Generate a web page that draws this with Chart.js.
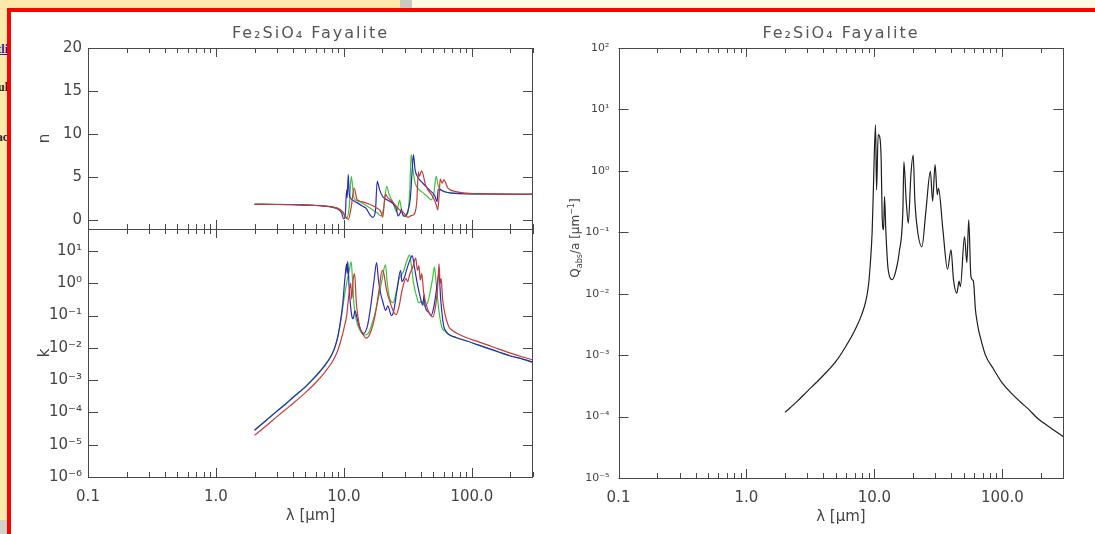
<!DOCTYPE html>
<html>
<head>
<meta charset="utf-8">
<script src="https://cdn.jsdelivr.net/npm/chart.js@4.4.1/dist/chart.umd.min.js"></script>
<style>
  html, body { margin: 0; padding: 0; }
  body { width: 1095px; height: 534px; overflow: hidden; position: relative; background: #fde9aa; }
  #topLight { position: absolute; left: 412px; top: 0; width: 683px; height: 9px; background: #fffbe2; }
  #grip { position: absolute; left: 400px; top: 0; width: 12px; height: 9px; background: #cbc8c0; }
  #bottomGrey { position: absolute; left: 0; top: 520px; width: 8px; height: 14px; background: #d4d1ca; }
  #frame { position: absolute; left: 7px; top: 8px; width: 1100px; height: 540px; border: 4px solid #f00; background: #fff; box-sizing: border-box; }
  .frag { position: absolute; left: -60px; width: 68px; text-align: right; overflow: hidden; white-space: nowrap;
          font: bold 12px "Liberation Serif", serif; color: #222; }
  .frag a { color: #1a1aa6; }
  canvas { position: absolute; left: 0; top: 0; }
</style>
</head>
<body>
<div id="topLight"></div>
<div id="grip"></div>
<div id="bottomGrey"></div>
<div class="frag" style="top:42px"><a href="#">Optical dat</a><a href="#">li</a></div>
<div class="frag" style="top:80px">Resul</div>
<div class="frag" style="top:130px">Spac</div>
<div id="frame"></div>
<canvas id="nChart" width="1095" height="534"></canvas>
<canvas id="kChart" width="1095" height="534"></canvas>
<canvas id="qChart" width="1095" height="534"></canvas>
<script>
// ---- data ----
const xTickVals = [0.1, 1, 10, 100];
const xTickText = ['0.1', '1.0', '10.0', '100.0'];
const nTickVals = [0, 5, 10, 15, 20];
const kTickVals = [1e-6, 1e-5, 1e-4, 1e-3, 1e-2, 1e-1, 1, 10];
const qTickVals = [1e-5, 1e-4, 1e-3, 1e-2, 1e-1, 1, 10, 100];

// refractive index n
const nLamBlue = [2.0, 3.0, 4.0, 5.0, 6.0, 7.0, 8.0, 9.0, 9.6, 9.9, 10.2, 10.5, 10.6, 10.8, 11.0, 11.3, 12.0, 13.0, 14.0, 15.0, 15.8, 16.8, 17.6, 18.2, 19.0, 20.1, 22.0, 24.0, 25.5, 26.5, 27.5, 28.1, 28.8, 29.8, 31.5, 33.0, 34.2, 34.9, 36.0, 37.7, 41.2, 46.5, 50.9, 53.5, 54.5, 57.0, 62.0, 70.0, 85.0, 130, 300];
const nBlue = [1.82, 1.80, 1.77, 1.73, 1.68, 1.60, 1.50, 1.25, 0.8, 0.15, 0.3, 3.5, 2.6, 5.3, 3.0, 2.5, 2.2, 1.9, 1.6, 1.3, 0.7, 0.3, 1.0, 4.5, 3.5, 2.7, 2.3, 1.95, 1.4, 0.47, 0.8, 1.25, 0.6, 0.45, 1.0, 2.5, 6.0, 7.6, 5.8, 5.0, 4.3, 3.5, 2.9, 2.15, 3.6, 3.5, 3.25, 3.12, 3.06, 3.02, 2.98];
const nLamGreen = [2.0, 3.0, 4.0, 5.0, 6.0, 7.0, 8.0, 9.0, 9.7, 10.4, 11.0, 11.4, 12.0, 13.0, 14.5, 16.8, 18.3, 19.4, 20.5, 21.6, 22.5, 24.0, 25.7, 26.5, 27.2, 28.3, 29.8, 31.5, 32.7, 33.5, 34.5, 36.0, 37.7, 40.4, 45.1, 48.0, 50.5, 52.5, 54.5, 57.4, 62.0, 70.0, 85.0, 130, 300];
const nGreen = [1.85, 1.83, 1.80, 1.76, 1.71, 1.64, 1.55, 1.35, 1.0, 0.19, 1.5, 5.06, 2.53, 2.2, 1.8, 1.17, 0.8, 0.47, 1.5, 3.9, 3.0, 2.14, 0.97, 1.6, 2.3, 1.0, 0.4, 0.8, 3.5, 7.6, 6.0, 4.3, 3.7, 3.3, 2.7, 2.34, 3.2, 5.06, 4.0, 3.5, 3.25, 3.12, 3.06, 3.02, 3.0];
const nLamRed = [2.0, 3.0, 4.0, 5.0, 6.0, 7.0, 8.0, 9.0, 9.8, 10.4, 10.8, 11.4, 12.0, 12.7, 14.0, 16.0, 18.0, 19.4, 20.1, 21.0, 22.0, 24.0, 27.2, 29.5, 31.6, 33.5, 35.5, 37.0, 38.2, 38.8, 40.4, 43.8, 49.4, 52.5, 54.0, 55.5, 56.5, 58.5, 60.4, 65.0, 75.0, 90.0, 130, 300];
const nRed = [1.82, 1.80, 1.77, 1.73, 1.68, 1.61, 1.52, 1.32, 0.9, 0.3, 0.06, 1.5, 3.7, 2.34, 2.1, 1.8, 1.4, 0.97, 0.31, 3.0, 2.6, 2.1, 1.17, 0.8, 0.31, 0.5, 0.7, 2.0, 5.6, 5.06, 5.7, 3.9, 2.72, 1.8, 1.17, 3.0, 4.75, 4.28, 4.67, 3.7, 3.3, 3.12, 3.03, 2.98];

// absorption index k
const kLamBlue = [2.0, 2.5, 3.0, 3.5, 4.0, 5.0, 6.0, 7.0, 8.0, 8.5, 9.0, 9.5, 9.8, 10.2, 10.5, 10.6, 10.7, 11.0, 11.5, 11.8, 12.2, 12.6, 13.2, 14.2, 15.3, 16.2, 17.2, 18.0, 18.6, 19.3, 20.2, 21.2, 22.0, 23.5, 24.5, 26.0, 27.7, 28.4, 29.5, 31.0, 33.0, 34.2, 35.5, 37.0, 39.0, 41.3, 42.3, 43.0, 46.0, 48.0, 50.0, 52.0, 54.0, 55.3, 57.0, 60.0, 63.0, 66.0, 75.0, 90.0, 110, 130, 160, 200, 250, 300];
const kBlue = [2.8e-5, 5.9e-5, 1.1e-4, 1.8e-4, 2.9e-4, 6.2e-4, 1.3e-3, 2.65e-3, 5.9e-3, 0.0105, 0.025, 0.09, 0.25, 1.6, 4.0, 2.0, 4.8, 0.63, 0.10, 0.08, 0.14, 0.09, 0.045, 0.028, 0.05, 0.2, 1.26, 4.4, 1.26, 0.5, 0.25, 0.145, 0.2, 0.1, 0.14, 0.63, 2.5, 1.12, 1.4, 2.8, 5.6, 7.2, 3.2, 1.26, 0.45, 0.21, 0.45, 0.2, 0.126, 0.1, 0.16, 0.4, 1.26, 2.0, 0.32, 0.05, 0.032, 0.026, 0.021, 0.0166, 0.0126, 0.01, 0.0076, 0.0056, 0.0045, 0.0036];
const kLamGreen = [2.0, 2.5, 3.0, 3.5, 4.0, 5.0, 6.0, 7.0, 8.0, 8.5, 9.0, 9.5, 10.0, 10.6, 11.0, 11.4, 11.7, 12.0, 12.6, 13.5, 14.5, 15.5, 17.0, 18.5, 19.8, 21.1, 21.8, 22.7, 24.2, 25.5, 27.0, 29.0, 31.0, 32.6, 33.5, 35.0, 37.0, 38.5, 40.5, 43.0, 45.0, 47.0, 49.5, 50.9, 52.5, 55.0, 58.0, 62.0, 66.0, 75.0, 90.0, 110, 130, 160, 200, 250, 300];
const kGreen = [2.8e-5, 6.0e-5, 1.12e-4, 1.86e-4, 2.95e-4, 6.3e-4, 1.32e-3, 2.7e-3, 6.0e-3, 0.0105, 0.024, 0.079, 0.32, 1.26, 2.5, 4.6, 1.0, 0.2, 0.063, 0.032, 0.025, 0.028, 0.079, 0.32, 1.26, 3.8, 1.0, 0.35, 0.25, 0.5, 1.4, 2.2, 5.0, 7.6, 4.0, 1.0, 0.38, 0.25, 0.28, 0.2, 0.25, 0.5, 1.6, 3.2, 1.0, 0.16, 0.045, 0.032, 0.026, 0.021, 0.0166, 0.0126, 0.01, 0.0076, 0.0056, 0.0045, 0.0035];
const kLamRed = [2.0, 2.5, 3.0, 3.5, 4.0, 5.0, 6.0, 7.0, 8.0, 8.5, 9.0, 9.5, 10.0, 10.5, 10.9, 11.3, 11.5, 11.8, 12.1, 12.5, 13.2, 14.2, 14.9, 16.0, 17.5, 18.8, 19.9, 20.5, 21.5, 23.0, 24.5, 25.6, 27.0, 28.5, 30.5, 31.5, 32.5, 34.5, 36.4, 37.5, 38.5, 39.5, 40.5, 42.0, 45.0, 49.5, 52.0, 54.0, 55.3, 56.5, 57.5, 59.0, 62.0, 64.0, 66.0, 70.0, 75.0, 90.0, 110, 130, 160, 200, 250, 300];
const kRed = [1.95e-5, 4.0e-5, 7.4e-5, 1.23e-4, 1.9e-4, 4.1e-4, 8.3e-4, 1.66e-3, 3.4e-3, 5.2e-3, 8.9e-3, 0.0178, 0.04, 0.1, 0.4, 1.0, 0.32, 1.26, 2.0, 0.25, 0.05, 0.025, 0.02, 0.028, 0.1, 0.63, 2.5, 2.0, 0.63, 0.25, 0.126, 0.107, 0.2, 0.63, 1.4, 1.12, 1.78, 3.2, 6.0, 2.5, 3.5, 1.26, 2.0, 0.5, 0.16, 0.091, 0.2, 0.8, 4.0, 1.0, 1.4, 0.32, 0.1, 0.063, 0.045, 0.035, 0.0295, 0.021, 0.0158, 0.0126, 0.0093, 0.0069, 0.0052, 0.0042];

// Qabs/a
const qLam = [2.0, 2.5, 3.0, 3.5, 4.0, 5.0, 6.0, 7.0, 8.0, 8.6, 9.0, 9.3, 9.6, 9.8, 10.2, 10.4, 10.7, 11.0, 11.3, 11.5, 11.8, 12.0, 12.3, 12.8, 13.8, 15.0, 15.6, 16.7, 17.0, 17.7, 18.4, 19.3, 20.1, 20.7, 21.7, 23.5, 25.3, 27.4, 28.5, 29.8, 31.0, 31.7, 34.3, 37.3, 39.7, 41.5, 44.1, 45.9, 47.0, 50.6, 52.8, 54.6, 56.8, 59.4, 61.6, 63.5, 65.1, 68.0, 73.8, 85.0, 100, 120, 138, 160, 189, 230, 300];
const qVal = [1.17e-4, 1.78e-4, 2.6e-4, 3.55e-4, 4.7e-4, 7.9e-4, 1.41e-3, 2.5e-3, 4.7e-3, 7.9e-3, 0.014, 0.032, 0.1, 0.44, 5.6, 0.49, 3.9, 3.6, 1.5, 0.18, 0.11, 0.38, 0.1, 0.025, 0.017, 0.028, 0.046, 0.23, 1.4, 0.34, 0.14, 0.89, 1.8, 0.34, 0.11, 0.058, 0.23, 0.98, 0.32, 1.26, 0.41, 0.52, 0.11, 0.025, 0.052, 0.017, 0.0102, 0.016, 0.013, 0.085, 0.032, 0.16, 0.019, 0.016, 0.0055, 0.0035, 0.0026, 0.0018, 0.001, 6.0e-4, 3.5e-4, 2.3e-4, 1.74e-4, 1.32e-4, 9.3e-5, 6.9e-5, 4.7e-5];

// ---- styling ----
const FONT = '"DejaVu Sans", sans-serif';
const AXIS = '#474747';
const TEXT = '#444';
const RED = '#c83a3a';
const BLUE = '#2b2bb8';
const GREEN = '#3cc43c';
const TITLE = 'Fe\u2082SiO\u2084 Fayalite';

const sup = { '-': '\u207b', '0': '\u2070', '1': '\u00b9', '2': '\u00b2', '3': '\u00b3', '4': '\u2074', '5': '\u2075', '6': '\u2076', '7': '\u2077', '8': '\u2078', '9': '\u2079' };
function powLabel(v) {
    const e = Math.round(Math.log10(v));
    return '10' + String(e).split('').map(c => sup[c]).join('');
}
function pts(lam, val) {
    return lam.map((x, i) => ({ x: x, y: val[i] }));
}
function line(lam, val, color) {
    return { data: pts(lam, val), borderColor: color, borderWidth: 1.2, pointRadius: 0,
             cubicInterpolationMode: 'monotone', fill: false };
}

// IDL-like frame: box, inward ticks on all four sides, title and special labels
const idlFrame = {
    id: 'idlFrame',
    afterDatasetsDraw(chart, args, opts) {
        const { ctx, chartArea: a } = chart;
        const xs = chart.scales.x, ys = chart.scales.y;
        ctx.save();
        ctx.strokeStyle = AXIS;
        ctx.lineWidth = 1;
        ctx.strokeRect(Math.round(a.left) + 0.5, Math.round(a.top) + 0.5,
            Math.round(a.right - a.left) - 1, Math.round(a.bottom - a.top));
        ctx.beginPath();
        xTickVals.forEach(d => {
            for (let m = 1; m < 10; m++) {
                const v = d * m;
                if (v < xs.min || v > xs.max) continue;
                const px = Math.round(xs.getPixelForValue(v)) + 0.5;
                const len = m === 1 ? 9 : 5;
                ctx.moveTo(px, a.bottom); ctx.lineTo(px, a.bottom - len);
                ctx.moveTo(px, a.top); ctx.lineTo(px, a.top + len);
            }
        });
        ys.ticks.forEach(t => {
            const py = Math.round(ys.getPixelForValue(t.value)) + 0.5;
            ctx.moveTo(a.left, py); ctx.lineTo(a.left + 10, py);
            ctx.moveTo(a.right, py); ctx.lineTo(a.right - 10, py);
        });
        ctx.stroke();

        if (opts.title) {
            ctx.fillStyle = '#555';
            ctx.font = '16px ' + FONT;
            ctx.textAlign = 'center';
            ctx.textBaseline = 'middle';
            ctx.letterSpacing = '2px';
            ctx.fillText(opts.title, (a.left + a.right) / 2, a.top - 14);
            ctx.letterSpacing = '0px';
        }
        if (opts.qLabel) {
            // Q_abs/a [um^-1], rotated, with sub/superscript
            const parts = [['Q', 12, 0], ['abs', 8, 3], ['/a [\u03bcm', 12, 0], ['\u22121', 8, -5], [']', 12, 0]];
            ctx.fillStyle = TEXT;
            ctx.textBaseline = 'alphabetic';
            ctx.textAlign = 'left';
            let total = 0;
            parts.forEach(p => { ctx.font = p[1] + 'px ' + FONT; total += ctx.measureText(p[0]).width; });
            ctx.translate(a.left - 44, 238);
            ctx.rotate(-Math.PI / 2);
            let cx = -total / 2;
            parts.forEach(p => {
                ctx.font = p[1] + 'px ' + FONT;
                ctx.fillText(p[0], cx, 4 + p[2]);
                cx += ctx.measureText(p[0]).width;
            });
        }
        ctx.restore();
    }
};

function xScale(showLabels) {
    return {
        type: 'logarithmic',
        min: 0.1,
        max: 300,
        display: showLabels,
        border: { display: false },
        grid: { display: false, drawTicks: false },
        afterBuildTicks: s => { s.ticks = xTickVals.map(v => ({ value: v })); },
        afterFit: s => { s.height = showLabels ? 52 : 0; },
        ticks: {
            autoSkip: false, maxRotation: 0, padding: 11, color: TEXT,
            font: { family: FONT, size: 15 },
            callback: v => xTickText[xTickVals.indexOf(v)]
        },
        title: {
            display: true, text: '\u03bb [\u03bcm]', color: TEXT,
            font: { family: FONT, size: 15 }, padding: { top: 0, bottom: 4 }
        }
    };
}

function baseOptions(padding, scales, frameOpts) {
    return {
        responsive: false,
        animation: false,
        devicePixelRatio: 1,
        layout: { padding: padding },
        plugins: { legend: { display: false }, tooltip: { enabled: false }, idlFrame: frameOpts },
        scales: scales
    };
}

// n panel (top left)
new Chart(document.getElementById('nChart'), {
    type: 'line',
    data: { datasets: [line(nLamRed, nRed, RED), line(nLamBlue, nBlue, BLUE), line(nLamGreen, nGreen, GREEN)] },
    options: baseOptions({ left: 30, top: 48, right: 562, bottom: 305 }, {
        x: xScale(false),
        y: {
            type: 'linear', min: -1.05, max: 20,
            border: { display: false },
            grid: { display: false, drawTicks: false },
            afterBuildTicks: s => { s.ticks = nTickVals.map(v => ({ value: v })); },
            afterFit: s => { s.width = 58; },
            ticks: { padding: 6, color: TEXT, font: { family: FONT, size: 15 } },
            title: { display: true, text: 'n', color: TEXT, font: { family: FONT, size: 15 }, padding: { top: 6, bottom: 0 } }
        }
    }, { title: TITLE }),
    plugins: [idlFrame]
});

// k panel (bottom left)
new Chart(document.getElementById('kChart'), {
    type: 'line',
    data: { datasets: [line(kLamRed, kRed, RED), line(kLamBlue, kBlue, BLUE), line(kLamGreen, kGreen, GREEN)] },
    options: baseOptions({ left: 30, top: 229, right: 562, bottom: 5 }, {
        x: xScale(true),
        y: {
            type: 'logarithmic', min: 1e-6, max: 48,
            border: { display: false },
            grid: { display: false, drawTicks: false },
            afterBuildTicks: s => { s.ticks = kTickVals.map(v => ({ value: v })); },
            afterFit: s => { s.width = 58; },
            ticks: { padding: 6, color: TEXT, font: { family: FONT, size: 15 }, callback: v => powLabel(v) },
            title: { display: true, text: 'k', color: TEXT, font: { family: FONT, size: 15 }, padding: { top: 6, bottom: 0 } }
        }
    }, {}),
    plugins: [idlFrame]
});

// Qabs/a panel (right)
new Chart(document.getElementById('qChart'), {
    type: 'line',
    data: { datasets: [line(qLam, qVal, '#1e1e1e')] },
    options: baseOptions({ left: 560, top: 48, right: 31.6, bottom: 4 }, {
        x: xScale(true),
        y: {
            type: 'logarithmic', min: 1e-5, max: 100,
            border: { display: false },
            grid: { display: false, drawTicks: false },
            afterBuildTicks: s => { s.ticks = qTickVals.map(v => ({ value: v })); },
            afterFit: s => { s.width = 58.5; },
            ticks: { padding: 9, color: TEXT, font: { family: FONT, size: 11 }, callback: v => powLabel(v) }
        }
    }, { title: TITLE, qLabel: true }),
    plugins: [idlFrame]
});
</script>
</body>
</html>
